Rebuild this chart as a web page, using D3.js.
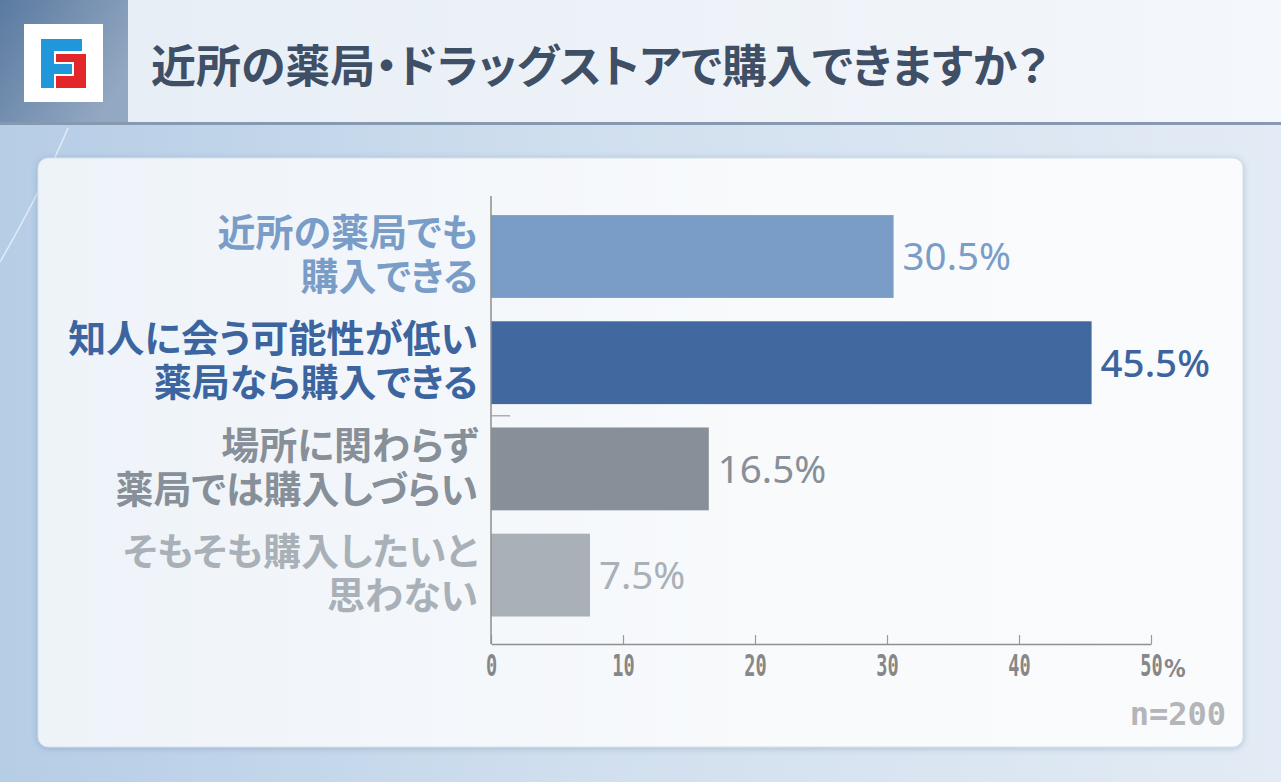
<!DOCTYPE html>
<html>
<head>
<meta charset="utf-8">
<script src="https://cdn.jsdelivr.net/npm/d3@7"></script>
<style>
  body { margin: 0; background: #fff; }
  svg { display: block; }
</style>
</head>
<body>
<svg id="chart"></svg>
<script>
const title = "近所の薬局・ドラッグストアで購入できますか？";
const categories = [
  ["近所の薬局でも", "購入できる"],
  ["知人に会う可能性が低い", "薬局なら購入できる"],
  ["場所に関わらず", "薬局では購入しづらい"],
  ["そもそも購入したいと", "思わない"]
];
const values = [30.5, 45.5, 16.5, 7.5];
const tickValues = [0, 10, 20, 30, 40, 50];
const sampleNote = "n=200";

// colours per row
const barColors = ["#7a9dc8", "#41689f", "#878f98", "#a9b0b7"];
const labelColors = ["#7a9dc8", "#3c659f", "#878f98", "#a9b0b7"];

const W = 1281, H = 782;
const jp = "'Noto Sans CJK JP', 'Noto Sans', sans-serif";

const svg = d3.select("#chart").attr("width", W).attr("height", H);
const defs = svg.append("defs");

function linGrad(id, stops, x2 = "100%", y2 = "0%") {
  const g = defs.append("linearGradient").attr("id", id)
    .attr("x1", "0%").attr("y1", "0%").attr("x2", x2).attr("y2", y2);
  stops.forEach(([o, c]) => g.append("stop").attr("offset", o).attr("stop-color", c));
}
linGrad("bg", [["0%", "#b6cde6"], ["45%", "#d0dfee"], ["100%", "#e3ebf5"]]);
linGrad("head", [["0%", "#e6edf5"], ["100%", "#f4f7fb"]]);
linGrad("logo", [["0%", "#5a7aa0"], ["100%", "#93a8c2"]], "100%", "60%");
linGrad("panel", [["0%", "#eef3f9"], ["60%", "#f8fafc"], ["100%", "#fafbfd"]]);

const shadow = defs.append("filter").attr("id", "shadow")
  .attr("x", "-5%").attr("y", "-5%").attr("width", "110%").attr("height", "110%");
shadow.append("feDropShadow").attr("dx", 0).attr("dy", 1).attr("stdDeviation", 3)
  .attr("flood-color", "#557395").attr("flood-opacity", 0.35);

// background + header
svg.append("rect").attr("width", W).attr("height", H).attr("fill", "url(#bg)");
svg.append("path")
  .attr("d", "M0,262 C30,210 50,170 68,128")
  .attr("fill", "none").attr("stroke", "#ffffff").attr("stroke-opacity", 0.6).attr("stroke-width", 1.5);
svg.append("rect").attr("width", W).attr("height", 123).attr("fill", "url(#head)");
svg.append("rect").attr("width", 128).attr("height", 123).attr("fill", "url(#logo)");
svg.append("line").attr("x1", 0).attr("x2", W).attr("y1", 123.5).attr("y2", 123.5)
  .attr("stroke", "#8799b0").attr("stroke-width", 3);

// logo mark
const logo = svg.append("g");
logo.append("rect").attr("x", 24).attr("y", 24).attr("width", 79).attr("height", 78).attr("fill", "#fff");
logo.append("rect").attr("x", 56).attr("y", 54).attr("width", 30).attr("height", 34).attr("fill", "#e2262a");
logo.append("rect").attr("x", 54).attr("y", 62).attr("width", 20).attr("height", 14).attr("fill", "#fff");
logo.append("rect").attr("x", 41).attr("y", 39).attr("width", 41).attr("height", 12).attr("fill", "#2197db");
logo.append("rect").attr("x", 41).attr("y", 39).attr("width", 13).attr("height", 49).attr("fill", "#2197db");
logo.append("rect").attr("x", 41).attr("y", 64).attr("width", 31).attr("height", 10).attr("fill", "#2197db");

svg.append("text")
  .attr("x", 151).attr("y", 67)
  .attr("dy", "0.36em")
  .attr("font-family", jp).attr("font-weight", 700).attr("font-size", 45)
  .style("font-feature-settings", "'palt'")
  .attr("fill", "#3e4f66")
  .text(title);

// panel
svg.append("rect")
  .attr("x", 38).attr("y", 158).attr("width", 1205).attr("height", 589).attr("rx", 10)
  .attr("fill", "url(#panel)").attr("stroke", "#d6dfea").attr("filter", "url(#shadow)");

// scales
const x = d3.scaleLinear().domain([0, 50]).range([491, 1151]);
const y = d3.scaleBand().domain(d3.range(values.length))
  .range([203.4, 628.2]).paddingInner(0.22).paddingOuter(0.11);

const chart = svg.append("g");

chart.selectAll(".bar")
  .data(values)
  .join("rect")
  .attr("class", "bar")
  .attr("x", x(0))
  .attr("y", (d, i) => y(i))
  .attr("width", d => x(d) - x(0))
  .attr("height", y.bandwidth())
  .attr("fill", (d, i) => barColors[i]);

chart.selectAll(".val")
  .data(values)
  .join("text")
  .attr("class", "val")
  .attr("x", d => x(d) + 9)
  .attr("y", (d, i) => y(i) + y.bandwidth() / 2)
  .attr("dy", "0.36em")
  .attr("font-family", "'Noto Sans', sans-serif")
  .attr("font-size", 38.5)
  .attr("font-weight", (d, i) => i === 1 ? 500 : 400)
  .attr("fill", (d, i) => labelColors[i])
  .text(d => d.toFixed(1) + "%");

// category labels (two lines, one text each)
const lines = categories.flatMap((d, i) => d.map((line, j) => ({ line, i, j })));
chart.selectAll(".cat")
  .data(lines)
  .join("text")
  .attr("class", "cat")
  .attr("text-anchor", "end")
  .attr("x", 478)
  .attr("y", d => y(d.i) + y.bandwidth() / 2 - 2 + (d.j === 0 ? -22 : 22))
  .attr("dy", "0.36em")
  .attr("font-family", jp).attr("font-weight", 700).attr("font-size", 38)
  .style("font-feature-settings", "'palt'")
  .attr("fill", d => labelColors[d.i])
  .text(d => d.line);

// x axis
const xAxis = chart.append("g")
  .attr("transform", "translate(0,644)")
  .call(d3.axisBottom(x).tickValues(tickValues).tickSizeInner(-9).tickSizeOuter(0).tickPadding(11));
xAxis.select(".domain").attr("stroke", "#8f8f8f").attr("stroke-width", 1.5);
xAxis.selectAll(".tick line").attr("stroke", "#9a9a9a").attr("stroke-width", 1.2);
xAxis.selectAll(".tick text")
  .attr("font-family", "'DejaVu Sans Mono', monospace")
  .attr("font-size", 30)
  .attr("font-weight", 700)
  .attr("fill", "#878787")
  .attr("transform", "scale(0.62,1)");
chart.append("text")
  .attr("x", x(50) + 13).attr("y", 677)
  .attr("font-family", "'DejaVu Sans Condensed', sans-serif")
  .attr("font-weight", 700)
  .attr("font-size", 24)
  .attr("fill", "#878787")
  .text("%");

// y axis line
chart.append("line")
  .attr("x1", x(0)).attr("x2", x(0)).attr("y1", 196).attr("y2", 644)
  .attr("stroke", "#8f8f8f").attr("stroke-width", 1.5);
// stray boundary tick between 2nd and 3rd rows
const gapY = y(2) - (y.step() - y.bandwidth()) / 2;
chart.append("line")
  .attr("x1", x(0)).attr("x2", x(0) + 19).attr("y1", gapY).attr("y2", gapY)
  .attr("stroke", "#9a9a9a").attr("stroke-width", 1.2);

svg.append("text")
  .attr("x", 1226).attr("y", 725)
  .attr("text-anchor", "end")
  .attr("font-family", "'DejaVu Sans Mono', monospace")
  .attr("font-weight", 700).attr("font-size", 32)
  .attr("fill", "#b3b5b8")
  .text(sampleNote);
</script>
</body>
</html>
